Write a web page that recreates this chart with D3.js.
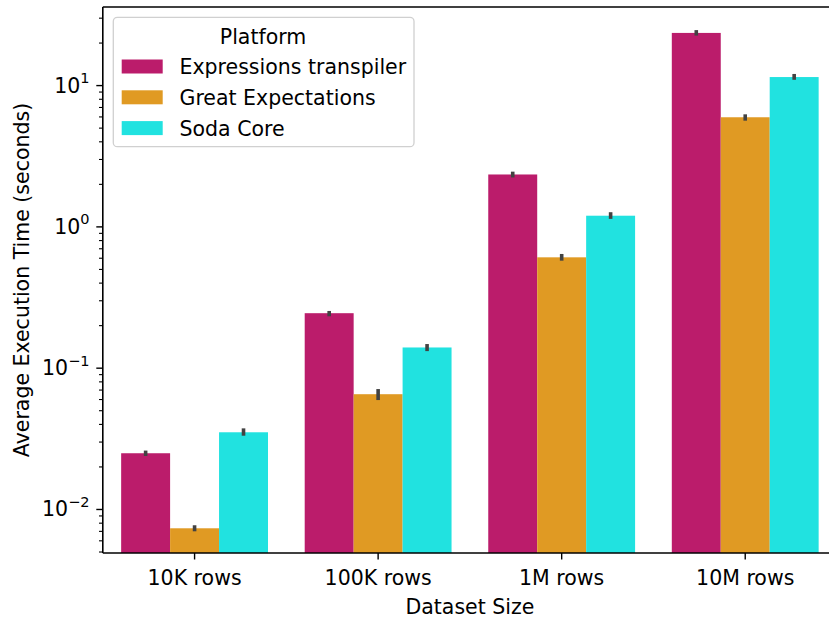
<!DOCTYPE html>
<html>
<head>
<meta charset="utf-8">
<script src="https://cdn.jsdelivr.net/npm/d3@7"></script>
<style>
  html, body { margin: 0; padding: 0; background: #fff; }
  svg { display: block; }
  text { font-family: "DejaVu Sans", sans-serif; fill: #000; }
</style>
</head>
<body>
<svg id="chart" width="829" height="622"></svg>
<script>
// ---- data ----
const categories = ["10K rows", "100K rows", "1M rows", "10M rows"];
const series = ["Expressions transpiler", "Great Expectations", "Soda Core"];
const colors = ["#bb1c6b", "#e09a23", "#21e2e0"];
const meanExpr = [0.0248, 0.243, 2.33, 23.4];
const meanGE   = [0.0073, 0.0649, 0.604, 5.92];
const meanSoda = [0.0349, 0.139, 1.19, 11.4];
const loExpr = [0.0237, 0.231, 2.22, 22.4];
const hiExpr = [0.0259, 0.252, 2.44, 24.5];
const loGE   = [0.00695, 0.059, 0.572, 5.6];
const hiGE   = [0.00767, 0.0706, 0.638, 6.21];
const loSoda = [0.0330, 0.131, 1.13, 10.9];
const hiSoda = [0.0372, 0.147, 1.26, 11.99];
const yTickValues = [0.01, 0.1, 1, 10];
const yTickExps = ["\u22122", "\u22121", "0", "1"];
const xLabel = "Dataset Size";
const yLabel = "Average Execution Time (seconds)";
const legendTitle = "Platform";

const means = [meanExpr, meanGE, meanSoda];
const los = [loExpr, loGE, loSoda];
const his = [hiExpr, hiGE, hiSoda];

// ---- layout ----
const pLeft = 102.8, pRight = 837, pTop = 7, pBottom = 553;
const FS = "20.5px";
const svg = d3.select("#chart");

const x0 = d3.scaleBand().domain(categories).range([pLeft, pRight]).paddingInner(0).paddingOuter(0);
const bw = x0.bandwidth();
const x1 = d3.scaleBand().domain(series).range([0.1 * bw, 0.9 * bw]).paddingInner(0).paddingOuter(0);
const y = d3.scaleLog().domain([0.00488, 35.7]).range([pBottom, pTop]);

// bars
const bars = [];
series.forEach((s, si) => {
  categories.forEach((c, ci) => {
    bars.push({ s, si, c, ci, v: means[si][ci], lo: los[si][ci], hi: his[si][ci] });
  });
});

svg.append("g").selectAll("rect").data(bars).enter().append("rect")
  .attr("x", d => x0(d.c) + x1(d.s))
  .attr("y", d => y(d.v))
  .attr("width", x1.bandwidth())
  .attr("height", d => pBottom - y(d.v))
  .attr("fill", d => colors[d.si]);

// error bars
svg.append("g").selectAll("line").data(bars).enter().append("line")
  .attr("x1", d => x0(d.c) + x1(d.s) + x1.bandwidth() / 2)
  .attr("x2", d => x0(d.c) + x1(d.s) + x1.bandwidth() / 2)
  .attr("y1", d => y(d.lo))
  .attr("y2", d => y(d.hi))
  .attr("stroke", "#424242")
  .attr("stroke-width", 3.6);

// y axis
const yAxisG = svg.append("g").attr("transform", `translate(${pLeft},0)`);
const minorTicks = [];
for (let e = -3; e <= 1; e++) {
  for (let m = 2; m <= 9; m++) {
    const v = m * Math.pow(10, e);
    if (v >= y.domain()[0] && v <= y.domain()[1]) minorTicks.push(v);
  }
}
yAxisG.call(d3.axisLeft(y).tickValues(minorTicks).tickSize(3.8).tickFormat(""))
  .call(g => g.select(".domain").remove())
  .call(g => g.selectAll("line").attr("stroke", "#000").attr("stroke-width", 1.1));
const yMajor = svg.append("g").attr("transform", `translate(${pLeft},0)`);
yMajor.call(d3.axisLeft(y).tickValues(yTickValues).tickSize(6.5).tickFormat(""))
  .call(g => g.select(".domain").remove())
  .call(g => g.selectAll("line").attr("stroke", "#000").attr("stroke-width", 1.4));
yTickValues.forEach((v, i) => {
  const t = svg.append("text")
    .attr("x", 89.5)
    .attr("y", y(v) + 7.5)
    .attr("text-anchor", "end")
    .style("font-size", FS);
  t.append("tspan").text("10");
  t.append("tspan").attr("dy", -9.5).style("font-size", "14.5px").text(yTickExps[i]);
});

// x axis
const xAxisG = svg.append("g").attr("transform", `translate(0,${pBottom})`);
xAxisG.call(d3.axisBottom(x0).tickSize(6.5).tickPadding(10.5))
  .call(g => g.select(".domain").remove())
  .call(g => g.selectAll("line").attr("stroke", "#000").attr("stroke-width", 1.4))
  .call(g => g.selectAll("text").style("font-size", FS).attr("fill", "#000")
    .style("font-family", "DejaVu Sans, sans-serif"));

// spines
svg.append("line").attr("x1", pLeft).attr("x2", pRight).attr("y1", pBottom).attr("y2", pBottom)
  .attr("stroke", "#000").attr("stroke-width", 1.6);
svg.append("line").attr("x1", pLeft).attr("x2", pRight).attr("y1", pTop).attr("y2", pTop)
  .attr("stroke", "#000").attr("stroke-width", 1.6);
svg.append("line").attr("x1", pLeft).attr("x2", pLeft).attr("y1", pTop).attr("y2", pBottom)
  .attr("stroke", "#000").attr("stroke-width", 1.6);

// axis labels
svg.append("text").attr("x", (pLeft + pRight) / 2).attr("y", 614)
  .attr("text-anchor", "middle").style("font-size", FS).text(xLabel);
svg.append("text").attr("transform", `translate(29,${(pTop + pBottom) / 2}) rotate(-90)`)
  .attr("text-anchor", "middle").style("font-size", FS).text(yLabel);

// legend
const lg = svg.append("g");
lg.append("rect").attr("x", 113.3).attr("y", 17.3).attr("width", 300.7).attr("height", 129.4)
  .attr("rx", 4).attr("fill", "#fff").attr("fill-opacity", 0.8)
  .attr("stroke", "#d0d0d0").attr("stroke-width", 1.3);
lg.append("text").attr("x", 263).attr("y", 43.5).attr("text-anchor", "middle")
  .style("font-size", FS).text(legendTitle);
series.forEach((s, i) => {
  const yy = 59.5 + i * 30.8;
  lg.append("rect").attr("x", 121.7).attr("y", yy).attr("width", 41).attr("height", 14)
    .attr("fill", colors[i]);
  lg.append("text").attr("x", 179.5).attr("y", yy + 14.4).style("font-size", FS).text(s);
});
</script>
</body>
</html>
